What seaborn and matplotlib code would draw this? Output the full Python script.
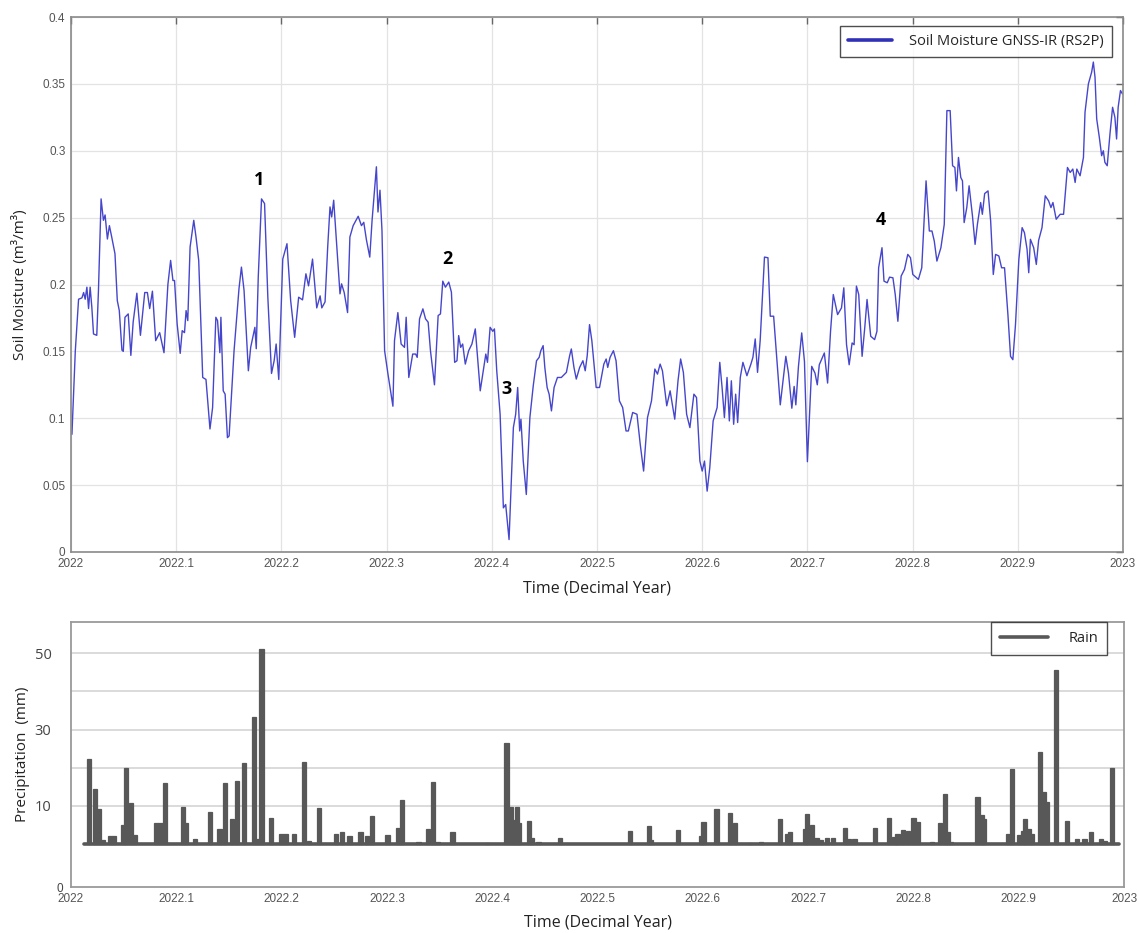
import matplotlib
matplotlib.use("Agg")
import matplotlib.pyplot as plt
from matplotlib.lines import Line2D
import seaborn as sns
import pandas as pd

# ---------------- data ----------------
sm_time = [
    2022.0009, 2022.0041, 2022.0072, 2022.0104, 2022.0120, 2022.0135, 2022.0151, 2022.0167, 2022.0182, 2022.0198,
    2022.0214, 2022.0245, 2022.0261, 2022.0286, 2022.0308, 2022.0324, 2022.0346, 2022.0365, 2022.0387, 2022.0418,
    2022.0440, 2022.0459, 2022.0484, 2022.0497, 2022.0513, 2022.0544, 2022.0569, 2022.0591, 2022.0626, 2022.0660,
    2022.0701, 2022.0726, 2022.0748, 2022.0774, 2022.0805, 2022.0843, 2022.0884, 2022.0921, 2022.0947, 2022.0969,
    2022.0984, 2022.1009, 2022.1038, 2022.1057, 2022.1079, 2022.1094, 2022.1110, 2022.1132, 2022.1167, 2022.1189,
    2022.1214, 2022.1252, 2022.1283, 2022.1321, 2022.1346, 2022.1377, 2022.1393, 2022.1415, 2022.1425, 2022.1447,
    2022.1465, 2022.1487, 2022.1503, 2022.1550, 2022.1597, 2022.1620, 2022.1645, 2022.1686, 2022.1708, 2022.1748,
    2022.1761, 2022.1780, 2022.1811, 2022.1840, 2022.1871, 2022.1906, 2022.1931, 2022.1950, 2022.1975, 2022.2013,
    2022.2053, 2022.2088, 2022.2126, 2022.2164, 2022.2201, 2022.2233, 2022.2258, 2022.2296, 2022.2336, 2022.2368,
    2022.2384, 2022.2415, 2022.2440, 2022.2462, 2022.2478, 2022.2497, 2022.2525, 2022.2557, 2022.2572, 2022.2597,
    2022.2629, 2022.2651, 2022.2682, 2022.2730, 2022.2761, 2022.2783, 2022.2808, 2022.2840, 2022.2862, 2022.2903,
    2022.2918, 2022.2937, 2022.2956, 2022.2981, 2022.3013, 2022.3060, 2022.3075, 2022.3107, 2022.3138, 2022.3170,
    2022.3186, 2022.3211, 2022.3248, 2022.3276, 2022.3291, 2022.3313, 2022.3345, 2022.3370, 2022.3395, 2022.3417,
    2022.3455, 2022.3490, 2022.3512, 2022.3534, 2022.3559, 2022.3591, 2022.3616, 2022.3647, 2022.3669, 2022.3685,
    2022.3704, 2022.3723, 2022.3748, 2022.3780, 2022.3811, 2022.3843, 2022.3890, 2022.3943, 2022.3959, 2022.3984,
    2022.4009, 2022.4025, 2022.4047, 2022.4079, 2022.4110, 2022.4132, 2022.4164, 2022.4205, 2022.4227, 2022.4246,
    2022.4265, 2022.4277, 2022.4299, 2022.4328, 2022.4362, 2022.4394, 2022.4425, 2022.4450, 2022.4466, 2022.4488,
    2022.4504, 2022.4526, 2022.4545, 2022.4567, 2022.4592, 2022.4624, 2022.4661, 2022.4709, 2022.4740, 2022.4756,
    2022.4781, 2022.4803, 2022.4835, 2022.4866, 2022.4888, 2022.4907, 2022.4929, 2022.4951, 2022.4992, 2022.5024,
    2022.5065, 2022.5087, 2022.5102, 2022.5124, 2022.5156, 2022.5181, 2022.5213, 2022.5244, 2022.5276, 2022.5298,
    2022.5339, 2022.5380, 2022.5411, 2022.5443, 2022.5480, 2022.5518, 2022.5550, 2022.5575, 2022.5600, 2022.5622,
    2022.5663, 2022.5695, 2022.5739, 2022.5770, 2022.5795, 2022.5821, 2022.5852, 2022.5883, 2022.5921, 2022.5946,
    2022.5978, 2022.6000, 2022.6022, 2022.6047, 2022.6072, 2022.6104, 2022.6142, 2022.6167, 2022.6189, 2022.6211,
    2022.6236, 2022.6258, 2022.6277, 2022.6299, 2022.6318, 2022.6337, 2022.6362, 2022.6387, 2022.6425, 2022.6463,
    2022.6482, 2022.6504, 2022.6526, 2022.6551, 2022.6592, 2022.6625, 2022.6647, 2022.6679, 2022.6742, 2022.6795,
    2022.6820, 2022.6852, 2022.6874, 2022.6890, 2022.6915, 2022.6946, 2022.6972, 2022.7000, 2022.7041, 2022.7072,
    2022.7094, 2022.7113, 2022.7161, 2022.7192, 2022.7220, 2022.7246, 2022.7287, 2022.7324, 2022.7346, 2022.7372,
    2022.7397, 2022.7425, 2022.7444, 2022.7466, 2022.7488, 2022.7520, 2022.7545, 2022.7567, 2022.7602, 2022.7639,
    2022.7661, 2022.7677, 2022.7709, 2022.7728, 2022.7759, 2022.7781, 2022.7813, 2022.7835, 2022.7860, 2022.7891,
    2022.7923, 2022.7954, 2022.7980, 2022.8002, 2022.8055, 2022.8087, 2022.8128, 2022.8159, 2022.8184, 2022.8206,
    2022.8231, 2022.8269, 2022.8301, 2022.8326, 2022.8357, 2022.8380, 2022.8402, 2022.8417, 2022.8436, 2022.8458,
    2022.8474, 2022.8490, 2022.8515, 2022.8537, 2022.8569, 2022.8594, 2022.8616, 2022.8647, 2022.8663, 2022.8685,
    2022.8717, 2022.8742, 2022.8767, 2022.8789, 2022.8820, 2022.8846, 2022.8874, 2022.8906, 2022.8931, 2022.8953,
    2022.8978, 2022.9010, 2022.9041, 2022.9063, 2022.9088, 2022.9104, 2022.9120, 2022.9151, 2022.9176, 2022.9198,
    2022.9230, 2022.9261, 2022.9293, 2022.9315, 2022.9334, 2022.9365, 2022.9403, 2022.9435, 2022.9472, 2022.9498,
    2022.9523, 2022.9545, 2022.9561, 2022.9592, 2022.9624, 2022.9639, 2022.9671, 2022.9702, 2022.9718, 2022.9734,
    2022.9750, 2022.9775, 2022.9797, 2022.9813, 2022.9828, 2022.9850, 2022.9876, 2022.9901, 2022.9923, 2022.9939,
    2022.9954, 2022.9976, 2022.9995,
]
sm_value = [
    0.088, 0.1505, 0.189, 0.190, 0.194, 0.189, 0.198, 0.182, 0.198, 0.183,
    0.163, 0.162, 0.1955, 0.264, 0.248, 0.252, 0.234, 0.244, 0.2355, 0.223,
    0.188, 0.1805, 0.151, 0.150, 0.1755, 0.178, 0.147, 0.172, 0.1935, 0.162,
    0.194, 0.194, 0.182, 0.195, 0.158, 0.164, 0.149, 0.200, 0.218, 0.203,
    0.203, 0.1705, 0.1485, 0.1655, 0.164, 0.1805, 0.173, 0.228, 0.248, 0.235,
    0.218, 0.1305, 0.129, 0.092, 0.108, 0.1755, 0.173, 0.149, 0.1755, 0.1205,
    0.118, 0.0855, 0.0868, 0.1505, 0.197, 0.213, 0.1955, 0.1355, 0.153, 0.168,
    0.152, 0.2055, 0.264, 0.2605, 0.1905, 0.1335, 0.143, 0.1555, 0.129, 0.219,
    0.2305, 0.188, 0.1605, 0.1905, 0.1885, 0.208, 0.199, 0.219, 0.1825, 0.1915,
    0.1825, 0.187, 0.228, 0.258, 0.2505, 0.263, 0.2305, 0.193, 0.2005, 0.194,
    0.179, 0.2355, 0.244, 0.251, 0.244, 0.2465, 0.2335, 0.2205, 0.248, 0.288,
    0.2542, 0.2705, 0.2405, 0.1505, 0.133, 0.109, 0.158, 0.179, 0.1555, 0.153,
    0.1755, 0.1305, 0.148, 0.148, 0.1455, 0.1743, 0.1818, 0.1743, 0.1718, 0.1505,
    0.125, 0.1768, 0.178, 0.2025, 0.198, 0.2018, 0.1943, 0.1418, 0.143, 0.1618,
    0.153, 0.1555, 0.1405, 0.1505, 0.1555, 0.1668, 0.1205, 0.148, 0.1418, 0.168,
    0.165, 0.1668, 0.1355, 0.103, 0.033, 0.0355, 0.0093, 0.093, 0.103, 0.123,
    0.0905, 0.0993, 0.068, 0.043, 0.1005, 0.1243, 0.143, 0.1455, 0.1505, 0.1543,
    0.138, 0.123, 0.118, 0.1055, 0.123, 0.1305, 0.1305, 0.1343, 0.1468, 0.1518,
    0.138, 0.1293, 0.138, 0.143, 0.1355, 0.1468, 0.170, 0.158, 0.123, 0.123,
    0.1405, 0.1443, 0.138, 0.1455, 0.1505, 0.143, 0.113, 0.108, 0.0905, 0.0905,
    0.1043, 0.103, 0.0805, 0.0605, 0.1005, 0.113, 0.1368, 0.133, 0.1405, 0.1355,
    0.1093, 0.1205, 0.0993, 0.128, 0.1443, 0.1343, 0.103, 0.093, 0.118, 0.1155,
    0.068, 0.0605, 0.068, 0.0455, 0.063, 0.098, 0.108, 0.1418, 0.123, 0.1005,
    0.1305, 0.098, 0.128, 0.0955, 0.118, 0.0968, 0.1305, 0.1418, 0.1318, 0.1405,
    0.1455, 0.1593, 0.1343, 0.158, 0.2205, 0.220, 0.1763, 0.1763, 0.110, 0.1463,
    0.1338, 0.1075, 0.1238, 0.110, 0.1388, 0.1638, 0.1425, 0.0675, 0.1388, 0.1338,
    0.125, 0.140, 0.1488, 0.1263, 0.165, 0.1925, 0.1775, 0.1825, 0.1975, 0.155,
    0.140, 0.1563, 0.155, 0.1988, 0.1925, 0.1463, 0.1675, 0.1888, 0.1613, 0.1588,
    0.165, 0.2125, 0.2275, 0.2025, 0.2013, 0.2055, 0.205, 0.1925, 0.1725, 0.2063,
    0.2113, 0.2225, 0.220, 0.2075, 0.2038, 0.2125, 0.2775, 0.240, 0.240, 0.2325,
    0.2175, 0.2275, 0.245, 0.330, 0.330, 0.2888, 0.2875, 0.270, 0.295, 0.280,
    0.2775, 0.2463, 0.2575, 0.2738, 0.2513, 0.230, 0.245, 0.2613, 0.2525, 0.268,
    0.270, 0.2475, 0.2075, 0.2225, 0.2213, 0.2125, 0.2125, 0.1775, 0.1463, 0.1438,
    0.170, 0.2188, 0.2425, 0.2388, 0.2263, 0.2088, 0.2338, 0.2275, 0.215, 0.233,
    0.2425, 0.2663, 0.2625, 0.2575, 0.2613, 0.2488, 0.2525, 0.2525, 0.2875, 0.2838,
    0.2863, 0.2763, 0.2863, 0.2813, 0.295, 0.3288, 0.350, 0.3588, 0.3663, 0.355,
    0.3238, 0.310, 0.2963, 0.300, 0.2913, 0.2888, 0.3125, 0.3325, 0.325, 0.3088,
    0.3325, 0.345, 0.3425,
]

rain_time = [
    2022.0170, 2022.0225, 2022.0264, 2022.0300, 2022.0370, 2022.0410, 2022.0495, 2022.0523, 2022.0570, 2022.0610,
    2022.0810, 2022.0850, 2022.0889, 2022.0920, 2022.1060, 2022.1090, 2022.1180, 2022.1320, 2022.1410, 2022.1460,
    2022.1530, 2022.1575, 2022.1646, 2022.1735, 2022.1770, 2022.1810, 2022.1900, 2022.2000, 2022.2040, 2022.2115,
    2022.2215, 2022.2260, 2022.2357, 2022.2520, 2022.2570, 2022.2645, 2022.2750, 2022.2810, 2022.2855, 2022.3006,
    2022.3110, 2022.3147, 2022.3300, 2022.3390, 2022.3438, 2022.3480, 2022.3623, 2022.3950, 2022.4135, 2022.4180,
    2022.4205, 2022.4234, 2022.4255, 2022.4350, 2022.4380, 2022.4440, 2022.4646, 2022.5310, 2022.5486, 2022.5510,
    2022.5766, 2022.5980, 2022.6007, 2022.6130, 2022.6260, 2022.6305, 2022.6450, 2022.6550, 2022.6735, 2022.6800,
    2022.6826, 2022.6970, 2022.6990, 2022.7035, 2022.7080, 2022.7120, 2022.7180, 2022.7240, 2022.7350, 2022.7390,
    2022.7440, 2022.7632, 2022.7770, 2022.7820, 2022.7850, 2022.7900, 2022.7950, 2022.8000, 2022.8045, 2022.8180,
    2022.8250, 2022.8300, 2022.8330, 2022.8360, 2022.8608, 2022.8648, 2022.8670, 2022.8903, 2022.8940, 2022.9000,
    2022.9040, 2022.9060, 2022.9100, 2022.9130, 2022.9206, 2022.9240, 2022.9270, 2022.9355, 2022.9457, 2022.9550,
    2022.9625, 2022.9684, 2022.9780, 2022.9820, 2022.9885,
]
rain_mm = [
    22.3, 14.5, 9.1, 1.0, 2.0, 2.2, 4.9, 19.8, 10.8, 2.3,
    5.5, 5.5, 16.1, 0.3, 9.8, 5.5, 1.4, 8.3, 4.0, 16.1,
    6.6, 16.6, 21.1, 33.3, 1.2, 51.2, 6.7, 2.7, 2.7, 2.6,
    21.4, 0.7, 9.5, 2.7, 3.2, 2.0, 3.2, 2.0, 7.4, 2.4,
    4.2, 11.6, 0.4, 4.0, 16.3, 0.5, 3.2, 0.2, 26.4, 9.7,
    6.2, 9.7, 5.4, 6.0, 1.5, 0.5, 1.6, 3.4, 4.6, 1.0,
    3.7, 2.0, 5.7, 9.2, 8.0, 5.4, 0.3, 0.5, 6.6, 2.5,
    3.2, 4.0, 7.8, 4.9, 1.5, 1.0, 1.5, 1.5, 4.3, 1.3,
    1.3, 4.1, 6.8, 1.7, 2.7, 3.6, 3.4, 6.8, 5.8, 0.4,
    5.6, 13.0, 3.0, 0.5, 12.3, 7.5, 6.6, 2.5, 19.7, 2.3,
    3.5, 6.5, 4.0, 2.5, 24.2, 13.7, 11.0, 45.5, 6.0, 1.4,
    1.4, 3.2, 1.4, 0.8, 20.0,
]

x_ticks = [2022.0, 2022.1, 2022.2, 2022.3, 2022.4, 2022.5, 2022.6, 2022.7, 2022.8, 2022.9, 2023.0]
x_labels = ["2022", "2022.1", "2022.2", "2022.3", "2022.4", "2022.5", "2022.6", "2022.7", "2022.8", "2022.9", "2023"]
sm_ticks = [0, 0.05, 0.1, 0.15, 0.2, 0.25, 0.3, 0.35, 0.4]
sm_labels = ["0", "0.05", "0.1", "0.15", "0.2", "0.25", "0.3", "0.35", "0.4"]
rain_grid = [10, 20, 30, 40, 50]
rain_labels = ["10", "", "30", "", "50"]

event_labels = ["1", "2", "3", "4"]
event_time = [2022.1787, 2022.3574, 2022.4135, 2022.7700]
event_value = [0.2778, 0.2193, 0.1222, 0.2485]

# ---------------- style ----------------
sns.set_theme(style="white")
plt.rcParams["font.family"] = ["Liberation Sans", "DejaVu Sans"]

LINE_BLUE = "#4646cc"
BAR_GRAY = "#585858"
SPINE = "#8a8a8a"
GRID = "#e3e3e3"
TICK_TXT = "#555555"
LABEL_FONT = ["Open Sans", "DejaVu Sans"]

fig = plt.figure(figsize=(11.39, 9.33), dpi=100)
ax1 = fig.add_axes([71 / 1139, 1 - 552 / 933, 1052 / 1139, 535 / 933])
ax2 = fig.add_axes([71 / 1139, 1 - 887 / 933, 1053 / 1139, 265 / 933])

# ---------------- top panel ----------------
sm_df = pd.DataFrame({"time": sm_time, "sm": sm_value})
sns.lineplot(data=sm_df, x="time", y="sm", ax=ax1, sort=False, color=LINE_BLUE,
             linewidth=1.0, label="Soil Moisture GNSS-IR (RS2P)")
ax1.set_xlim(2022, 2023)
ax1.set_ylim(0, 0.4)
ax1.set_xticks(x_ticks)
ax1.set_xticklabels(x_labels)
ax1.set_yticks(sm_ticks)
ax1.set_yticklabels(sm_labels)
ax1.grid(True, color=GRID, linewidth=0.9)
ax1.tick_params(direction="in", length=5, width=1, color="#666666", top=True, right=True,
                labelsize=8.5, labelcolor=TICK_TXT, pad=4)
for s in ax1.spines.values():
    s.set_color(SPINE)
    s.set_linewidth(1.2)
ax1.set_xlabel("Time (Decimal Year)", fontsize=11.5, family=LABEL_FONT, color="#222222", labelpad=8)
ax1.set_ylabel("Soil Moisture (m³/m³)", fontsize=11, family=LABEL_FONT, color="#222222", labelpad=10)

for lab, t, v in zip(event_labels, event_time, event_value):
    ax1.text(t, v, lab, ha="center", va="center", fontsize=13, fontweight="bold",
             family=LABEL_FONT, color="black")

leg1 = ax1.legend(loc="upper right", bbox_to_anchor=(0.9895, 0.983), frameon=True, fancybox=False,
                  edgecolor="#222222", handlelength=3.0, handletextpad=1.2,
                  borderpad=0.55, borderaxespad=0.0, prop={"family": LABEL_FONT, "size": 10.5})
leg1.get_frame().set_linewidth(1.0)
leg1.get_lines()[0].set_linewidth(2.6)
leg1.get_lines()[0].set_color("#3030b8")

# ---------------- bottom panel ----------------
ax2.bar(rain_time, rain_mm, width=0.0040, color=BAR_GRAY, edgecolor=BAR_GRAY, linewidth=0.9, zorder=3)
ax2.axhline(0, xmin=0.012, xmax=0.995, color=BAR_GRAY, linewidth=2.6, zorder=3)
ybot = -11.3
ax2.set_xlim(2022, 2023)
ax2.set_ylim(ybot, 58.2)
ax2.set_xticks(x_ticks)
ax2.set_xticklabels(x_labels)
ax2.set_yticks(rain_grid)
ax2.set_yticklabels(rain_labels)
ax2.set_yticks([ybot], minor=True)
ax2.set_yticklabels(["0"], minor=True)
ax2.grid(True, axis="y", which="major", color="#d4d4d4", linewidth=1.2, zorder=0)
ax2.tick_params(axis="x", direction="in", length=6, width=1, color="#777777",
                labelsize=8.5, labelcolor=TICK_TXT, pad=4)
ax2.tick_params(axis="y", which="major", length=0, labelsize=10.5, labelcolor="#444444", pad=14)
ax2.tick_params(axis="y", which="minor", length=0, labelsize=8.5, labelcolor="#444444", pad=6)
for lbl in ax2.get_yticklabels():
    lbl.set_family(LABEL_FONT)
for s in ax2.spines.values():
    s.set_color("#9a9a9a")
    s.set_linewidth(1.3)
ax2.set_xlabel("Time (Decimal Year)", fontsize=11.5, family=LABEL_FONT, color="#222222", labelpad=7)
ax2.set_ylabel("Precipitation  (mm)", fontsize=11, family=LABEL_FONT, color="#222222")
ax2.yaxis.set_label_coords(-(71 - 30) / 1053, 0.5)

rain_handle = Line2D([], [], color=BAR_GRAY, linewidth=2.6)
leg2 = ax2.legend([rain_handle], ["Rain"], loc="upper right", bbox_to_anchor=(0.984, 1.0),
                  frameon=True, fancybox=False, edgecolor="#222222", handlelength=3.3,
                  handletextpad=1.4, borderpad=0.6, borderaxespad=0.0,
                  prop={"family": LABEL_FONT, "size": 10.5})
leg2.get_frame().set_linewidth(1.0)

fig.savefig("out.png", dpi=100, facecolor="white")
